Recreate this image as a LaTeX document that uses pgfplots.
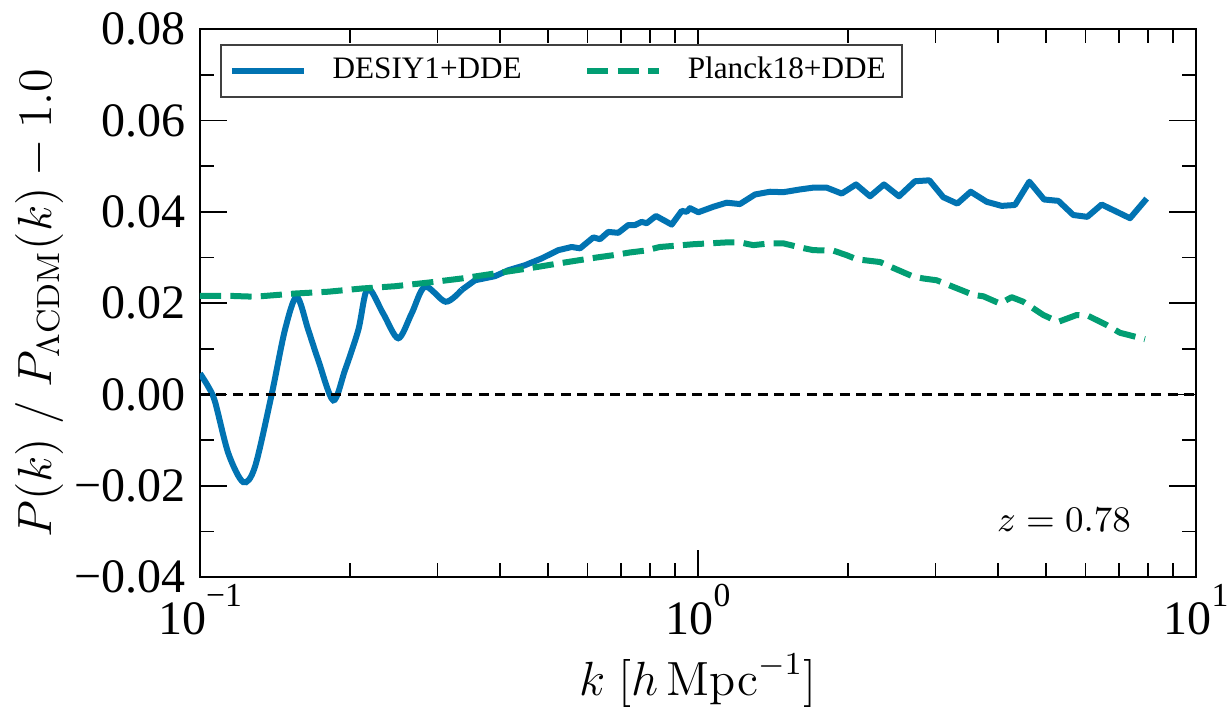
\documentclass[border=0pt]{standalone}
\usepackage[no-math]{fontspec}
\setmainfont{Liberation Serif}
\usepackage{pgfplots}
\pgfplotsset{compat=1.18}
\definecolor{cblue}{RGB}{1,115,178}
\definecolor{cgreen}{RGB}{2,158,115}
\begin{document}
\begin{tikzpicture}
\useasboundingbox (-50pt,-32.75pt) rectangle (256.75pt,144.25pt);
\begin{axis}[
  scale only axis,
  width=249pt, height=136.95pt,
  xmode=log,
  xmin=0.1, xmax=10, ymin=-0.04, ymax=0.08,
  xtick={0.1,1,10},
  xticklabels={{10\raisebox{7pt}{\fontsize{8.4}{10}\selectfont −1}},{10\raisebox{7pt}{\fontsize{8.4}{10}\selectfont 0}},{10\raisebox{7pt}{\fontsize{8.4}{10}\selectfont 1}}},
  minor xtick={0.2,0.3,0.4,0.5,0.6,0.7,0.8,0.9,2,3,4,5,6,7,8,9},
  ytick={-0.04,-0.02,0,0.02,0.04,0.06,0.08},
  yticklabels={−0.04,−0.02,0.00,0.02,0.04,0.06,0.08},
  minor ytick={-0.03,-0.01,0.01,0.03,0.05,0.07},
  scaled y ticks=false,
  tick align=inside,
  major tick length=6.75pt,
  minor tick length=3.4pt,
  tick style={black, line width=0.4pt},
  axis line style={black, line width=0.45pt},
  ticklabel style={font=\fontsize{12}{14}\selectfont},
  xticklabel style={yshift=1.7pt},
  xlabel={$k\;[h\,\mathrm{Mpc}^{-1}]$},
  ylabel={$P(k)\;/\;P_{\Lambda\mathrm{CDM}}(k)-1.0$},
  label style={font=\fontsize{12}{14}\selectfont},
  xlabel style={at={(axis description cs:0.5,0)}, anchor=base, yshift=-29.5pt},
  ylabel style={at={(axis description cs:0,0.5)}, anchor=center, yshift=40pt},
  legend columns=2,
  legend style={at={(axis description cs:0,1)}, anchor=north west, xshift=5pt, yshift=-3.75pt,
    draw=black!75, line width=0.5pt, fill=white, font=\fontsize{7.8}{9}\selectfont,
    inner xsep=2pt, inner ysep=1pt,
    /tikz/every odd column/.append style={column sep=4.4pt},
    /tikz/every even column/.append style={column sep=13.6pt},
    cells={anchor=west}},
  legend image code/.code={\draw[#1] (0pt,0pt) -- (18pt,0pt);},
]
\addplot[cblue, line width=1.5pt, smooth, tension=0.5] coordinates {
(0.1000,0.0046) (0.1039,0.0017) (0.1072,-0.0016) (0.1140,-0.0129) (0.1221,-0.0192)
(0.1289,-0.0159) (0.1393,0.0000) (0.1481,0.0141) (0.1564,0.0214) (0.1650,0.0141)
(0.1728,0.0075) (0.1852,-0.0013) (0.1955,0.0053) (0.2079,0.0141) (0.2171,0.0232)
(0.2333,0.0177) (0.2501,0.0123) (0.2660,0.0177) (0.2830,0.0236) (0.3115,0.0203)
(0.3354,0.0229)
};
\addlegendentry{DESIY1+DDE}
\addplot[cblue, line width=1.5pt, forget plot, line join=round] coordinates {
(0.3354,0.0229) (0.3566,0.0250) (0.3912,0.0259) (0.4159,0.0272) (0.4493,0.0283)
(0.4855,0.0298) (0.5242,0.0316) (0.5578,0.0323) (0.5797,0.0320) (0.6164,0.0344)
(0.6357,0.0340) (0.6606,0.0356) (0.6918,0.0354) (0.7244,0.0371) (0.7472,0.0371)
(0.7707,0.0378) (0.7888,0.0375) (0.8234,0.0391) (0.8856,0.0372) (0.9275,0.0402)
(0.9491,0.0400) (0.9637,0.0408) (1.0014,0.0399) (1.0732,0.0411) (1.1417,0.0420)
(1.2140,0.0417) (1.3017,0.0438) (1.3951,0.0444) (1.4836,0.0443) (1.6026,0.0449)
(1.7041,0.0453) (1.8130,0.0453) (1.9436,0.0440) (2.0766,0.0460) (2.2154,0.0434)
(2.3633,0.0460) (2.5326,0.0434) (2.7279,0.0467) (2.9143,0.0469) (3.1085,0.0432)
(3.3164,0.0418) (3.5285,0.0444) (3.7985,0.0422) (4.0718,0.0413) (4.3301,0.0415)
(4.6272,0.0466) (4.9531,0.0427) (5.2912,0.0424) (5.6701,0.0393) (6.0490,0.0389)
(6.4650,0.0416) (7.3706,0.0386) (7.9616,0.0429)
};
\addplot[cgreen, line width=1.5pt, dash pattern=on 5.3pt off 2.3pt, line join=round] coordinates {
(0.1000,0.0216) (0.1140,0.0216) (0.1289,0.0214) (0.1551,0.0221) (0.1810,0.0225)
(0.2112,0.0232) (0.2464,0.0237) (0.2874,0.0245) (0.3354,0.0254) (0.3912,0.0265)
(0.4563,0.0276) (0.5325,0.0288) (0.6261,0.0300) (0.6759,0.0305) (0.7302,0.0311)
(0.7826,0.0315) (0.8387,0.0323) (0.9062,0.0326) (0.9786,0.0329) (1.0570,0.0331)
(1.1417,0.0333) (1.2140,0.0333) (1.2912,0.0327) (1.3951,0.0331) (1.4836,0.0331)
(1.6026,0.0322) (1.7041,0.0316) (1.8694,0.0315) (1.9889,0.0305) (2.0830,0.0296)
(2.3202,0.0290) (2.4673,0.0277) (2.7066,0.0258) (2.8347,0.0254) (3.0155,0.0250)
(3.2319,0.0237) (3.5713,0.0218) (3.7404,0.0215) (4.0401,0.0199) (4.2649,0.0213)
(4.5002,0.0203) (4.9351,0.0174) (5.2912,0.0159) (5.7610,0.0174) (6.0769,0.0172)
(6.6170,0.0152) (7.0372,0.0135) (7.9000,0.0121)
};
\addlegendentry{Planck18+DDE}
\addplot[black, line width=0.8pt, dash pattern=on 2.5pt off 1.6pt, forget plot] coordinates {(0.1,0) (10,0)};
\node[anchor=base, font=\fontsize{9.2}{11}\selectfont] at (axis cs:5.43,-0.0301) {$z=0.78$};
\end{axis}
\end{tikzpicture}
\end{document}
